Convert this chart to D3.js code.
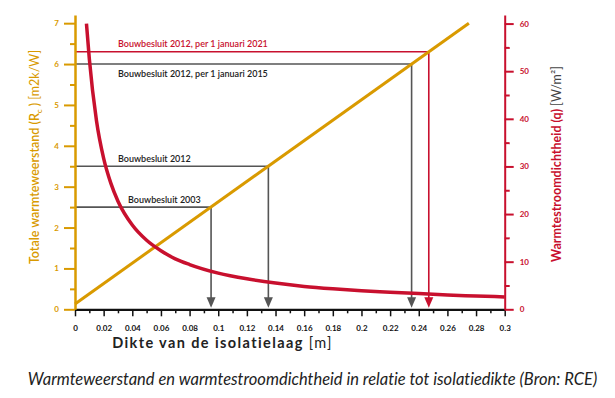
<!DOCTYPE html>
<html>
<head>
<meta charset="utf-8">
<script src="https://cdn.jsdelivr.net/npm/d3@7"></script>
<style>
	body { margin: 0; background: #fff; }
	svg { display: block; font-family: "Lato", "Open Sans", sans-serif; }
</style>
</head>
<body>
<div id="diagram"></div>
<script>
// thickness of the insulation layer [m]
const thickness = [0, 0.275];
// total thermal resistance Rc [m2K/W]
const resistance = [0.13, 7.0];

// heat flux density q [W/m2] against thickness
const fluxThickness = [0.008, 0.01, 0.015, 0.02, 0.025, 0.03, 0.04, 0.05, 0.06, 0.07, 0.08,
	0.1, 0.12, 0.14, 0.16, 0.18, 0.2, 0.22, 0.24, 0.26, 0.28, 0.3];
const flux = [60, 52.6, 39.6, 31.7, 26.5, 22.7, 17.7, 14.5, 12.3, 10.6, 9.4,
	7.6, 6.4, 5.5, 4.8, 4.3, 3.9, 3.6, 3.3, 3.0, 2.8, 2.6];

// building code requirements
const refLabels = ["Bouwbesluit 2003", "Bouwbesluit 2012",
	"Bouwbesluit 2012, per 1 januari 2015", "Bouwbesluit 2012, per 1 januari 2021"];
const refR = [2.5, 3.5, 6.0, 6.3];
const refD = [0.095, 0.135, 0.235, 0.247];

const xTicks = [0, 0.02, 0.04, 0.06, 0.08, 0.1, 0.12, 0.14, 0.16, 0.18, 0.2, 0.22, 0.24, 0.26, 0.28, 0.3];
const rTicks = [0, 1, 2, 3, 4, 5, 6, 7];
const qTicks = [0, 10, 20, 30, 40, 50, 60];

const orange = "#d99a00";
const red = "#c8102e";
const gray = "#555";

const width = 615;
const height = 398;

const x = d3.scaleLinear().domain([0, 0.3]).range([75, 504.7]);
const yR = d3.scaleLinear().domain([0, 7.2]).range([309.3, 15]);
const yQ = d3.scaleLinear().domain([0, 61.8]).range([309.3, 15]);

const svg = d3.select("#diagram")
	.append("svg")
	.attr("width", width)
	.attr("height", height)
	.attr("viewBox", `0 0 ${width} ${height}`);

// stretch a text to a given width with letter spacing
function fitWidth(sel, target) {
	const w = sel.node().getComputedTextLength();
	const n = sel.text().length;
	sel.attr("letter-spacing", ((target - w) / n) + "px");
}

// reference lines with arrows
const refColor = i => i == 3 ? red : gray;
const refs = svg.append("g");
refLabels.forEach(function(label, i) {
	const px = x(refD[i]);
	const py = yR(refR[i]);
	const bottom = yR(0);
	refs.append("path")
		.attr("d", `M${x(0)},${py}H${px}V${bottom - 10}`)
		.attr("fill", "none")
		.attr("stroke", refColor(i))
		.attr("stroke-width", 1.6);
	refs.append("path")
		.attr("d", `M${px - 4.5},${bottom - 12}L${px + 4.5},${bottom - 12}L${px},${bottom - 1.5}Z`)
		.attr("fill", refColor(i));
	refs.append("text")
		.text(label)
		.attr("x", i == 0 ? x(0.037) : x(0.03))
		.attr("y", i == 2 ? py + 13 : py - 4.5)
		.attr("font-size", "9px")
		.attr("font-weight", 600)
		.attr("fill", i == 3 ? red : "#222");
});

// Rc line
svg.append("path")
	.datum(thickness.map((d, i) => [d, resistance[i]]))
	.attr("d", d3.line().x(d => x(d[0])).y(d => yR(d[1])))
	.attr("fill", "none")
	.attr("stroke", orange)
	.attr("stroke-width", 3);

// q curve
svg.append("path")
	.datum(fluxThickness.map((d, i) => [d, flux[i]]))
	.attr("d", d3.line().curve(d3.curveMonotoneX).x(d => x(d[0])).y(d => yQ(d[1])))
	.attr("fill", "none")
	.attr("stroke", red)
	.attr("stroke-width", 3.5);

// x axis
const xMinor = d3.range(1, 30, 2).map(d => d / 100);
svg.append("g")
	.attr("transform", `translate(0,${yR(0)})`)
	.call(d3.axisBottom(x).tickValues(xMinor).tickSize(4).tickSizeOuter(0).tickFormat(""))
	.call(g => g.select(".domain").remove())
	.call(g => g.selectAll("line").attr("stroke", "#111").attr("stroke-width", 1.5));
svg.append("g")
	.attr("transform", `translate(0,${yR(0)})`)
	.call(d3.axisBottom(x).tickValues(xTicks).tickSize(7).tickSizeOuter(0)
		.tickFormat(d => String(+d.toFixed(2))))
	.call(g => g.select(".domain").attr("stroke", "#111").attr("stroke-width", 2.2))
	.call(g => g.selectAll("line").attr("stroke", "#111").attr("stroke-width", 1.5))
	.call(g => g.selectAll("text")
		.attr("font-family", "Lato, sans-serif")
		.attr("font-size", "8px")
		.attr("font-weight", 700)
		.attr("fill", "#111")
		.attr("dy", "1.45em"));

// left axis
const rMinor = d3.range(0.5, 7, 1);
svg.append("g")
	.attr("transform", `translate(${x(0)},0)`)
	.call(d3.axisLeft(yR).tickValues(rMinor).tickSize(5).tickSizeOuter(0).tickFormat(""))
	.call(g => g.select(".domain").remove())
	.call(g => g.selectAll("line").attr("stroke", orange).attr("stroke-width", 2));
svg.append("g")
	.attr("transform", `translate(${x(0)},0)`)
	.call(d3.axisLeft(yR).tickValues(rTicks).tickSize(11).tickSizeOuter(0).tickPadding(5))
	.call(g => g.select(".domain").attr("stroke", orange).attr("stroke-width", 2.5))
	.call(g => g.selectAll("line").attr("stroke", orange).attr("stroke-width", 2))
	.call(g => g.selectAll("text")
		.attr("font-family", "Lato, sans-serif")
		.attr("font-size", "8px")
		.attr("font-weight", 700)
		.attr("fill", orange));

// right axis
const qMinor = d3.range(5, 60, 10);
svg.append("g")
	.attr("transform", `translate(${x(0.3)},0)`)
	.call(d3.axisRight(yQ).tickValues(qMinor).tickSize(5).tickSizeOuter(0).tickFormat(""))
	.call(g => g.select(".domain").remove())
	.call(g => g.selectAll("line").attr("stroke", red).attr("stroke-width", 2));
svg.append("g")
	.attr("transform", `translate(${x(0.3)},0)`)
	.call(d3.axisRight(yQ).tickValues(qTicks).tickSize(9).tickSizeOuter(0).tickPadding(6))
	.call(g => g.select(".domain").attr("stroke", red).attr("stroke-width", 2))
	.call(g => g.selectAll("line").attr("stroke", red).attr("stroke-width", 2))
	.call(g => g.selectAll("text")
		.attr("font-family", "Lato, sans-serif")
		.attr("font-size", "8px")
		.attr("font-weight", 700)
		.attr("fill", red));

// axis titles
const leftTitle = svg.append("text")
	.attr("transform", "translate(39,157) rotate(-90)")
	.attr("text-anchor", "middle")
	.attr("font-size", "12.5px")
	.attr("font-weight", 600)
	.attr("fill", orange);
leftTitle.append("tspan").text("Totale warmteweerstand (R");
leftTitle.append("tspan").text("c").attr("font-size", "8px").attr("dy", "3");
leftTitle.append("tspan").text(" ) ").attr("dy", "-3");
leftTitle.append("tspan").text("[m2k/W]").attr("font-weight", 400);

const rightTitle = svg.append("text")
	.attr("transform", "translate(561,164) rotate(-90)")
	.attr("text-anchor", "middle")
	.attr("font-size", "12.5px")
	.attr("font-weight", 700)
	.attr("fill", red);
rightTitle.append("tspan").text("Warmtestroomdichtheid (q) ");
rightTitle.append("tspan").text("[W/m²]").attr("font-weight", 400).attr("fill", "#444");

const bottomTitle = svg.append("text")
	.attr("x", 222.5)
	.attr("y", 348)
	.attr("text-anchor", "middle")
	.attr("font-size", "14.5px")
	.attr("font-weight", 700)
	.attr("fill", "#222");
bottomTitle.append("tspan").text("Dikte van de isolatielaag ");
bottomTitle.append("tspan").text("[m]").attr("font-weight", 400);
fitWidth(bottomTitle, 221);

// caption
const caption = svg.append("text")
	.attr("x", 312.5)
	.attr("y", 385)
	.attr("text-anchor", "middle")
	.attr("font-size", "16.5px")
	.attr("font-style", "italic")
	.attr("fill", "#222")
	.text("Warmteweerstand en warmtestroomdichtheid in relatie tot isolatiedikte (Bron: RCE)");
fitWidth(caption, 569);
</script>
</body>
</html>
